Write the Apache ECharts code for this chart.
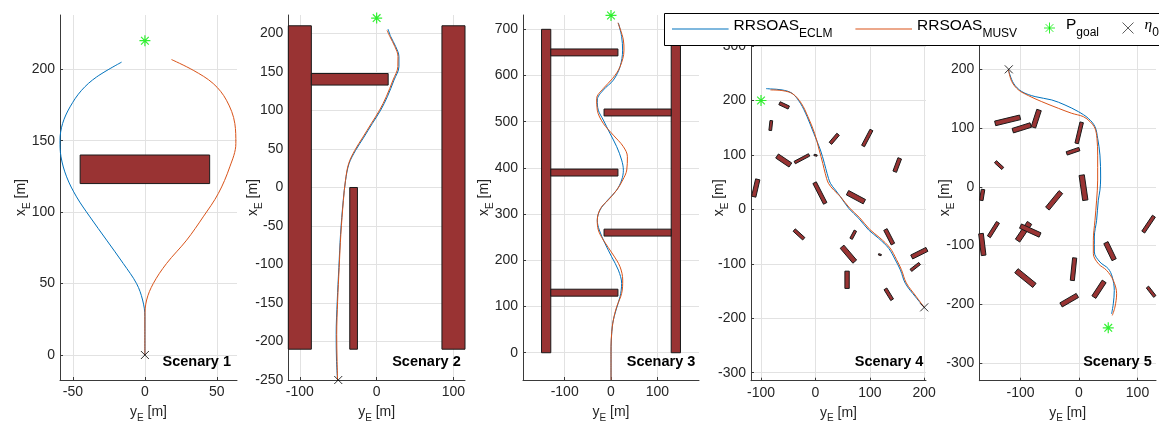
<!DOCTYPE html>
<html><head><meta charset="utf-8">
<script src="https://cdn.jsdelivr.net/npm/echarts@6/dist/echarts.min.js"></script>
<style>html,body{margin:0;padding:0;background:#fff}#c{width:1159px;height:421px}</style>
</head><body><div id="c"></div>
<script>
// ---------------- DATA (y_E, x_E in metres) ----------------
// Scenario 1
const s1_obstacles = [[-45, 45, 120, 140]]; // [yMin, yMax, xMin, xMax]
const s1_eclm = [[0,0],[0,27],[-1.6,38.5],[-5.8,50],[-15,64],[-26.6,80.4],[-38.2,96.7],[-47.5,110.7],[-54.4,124.7],[-58.3,138.7],[-59,150.3],[-57.2,162],[-52,173.7],[-44,185.3],[-33.6,194.6],[-16.2,205]];
const s1_musv = [[0,0],[0,27],[1.2,38.5],[5.8,50],[15,64],[29,80.4],[40.5,96.7],[51,113],[59,131.7],[63.2,148],[62.5,162],[56.7,178.3],[47.5,190],[33.6,199.3],[18.5,206.8]];
const s1_goal = [[0, 220]];
const s1_start = [[0, 0]];
const s1_xRange = [-59, 64], s1_yRange = [-17.5, 238];
const s1_xTicks = [-50, 0, 50], s1_yTicks = [0, 50, 100, 150, 200];

// Scenario 2
const s2_obstacles = [[-115,-85,-210,210],[85,115,-210,210],[-85,15,133,148],[-35,-25,-210,0]];
const s2_eclm = [[-50.9,-250],[-52.2,-226],[-52.7,-191],[-51.3,-147.7],[-49.2,-104],[-47,-60.7],[-43.5,-17],[-40.5,9],[-36,30.8],[-27.4,48.2],[-16.5,65.5],[-5.7,83],[5.2,100.4],[13.9,117.8],[22.6,139.5],[29,157],[29,170],[24.8,183],[18.3,196],[14.8,205.7]];
const s2_musv = [[-50.9,-250],[-51.5,-226],[-52,-191],[-50.8,-147.7],[-48.8,-104],[-46.6,-60.7],[-43.3,-17],[-40.6,9],[-36.5,30.8],[-28.5,48.2],[-17.8,65.5],[-7,83],[3.8,100.4],[12.5,117.8],[21.3,139.5],[27.6,157],[27.8,170],[23.7,183],[17.2,196],[13.5,204]];
const s2_goal = [[0, 220]];
const s2_start = [[-50, -250]];
const s2_xRange = [-115, 115], s2_yRange = [-250, 224];
const s2_xTicks = [-100, 0, 100], s2_yTicks = [-250,-200,-150,-100,-50,0,50,100,150,200];

// Scenario 3
const s3_obstacles = [[-150,-130,0,700],[130,150,0,700],[-130,15,122.5,137.5],[-130,15,382.5,397.5],[-130,15,642.5,657.5],[-15,130,252.5,267.5],[-15,130,512.5,527.5]];
const s3_eclm = [[0,-59],[0,0],[0.7,27.5],[3.6,63.6],[10.8,92.4],[19.5,121.3],[23,150],[15.9,178.9],[1.4,207.7],[-13,236.6],[-25.3,265.6],[-29.6,287],[-23.8,308.9],[-7,330.5],[12.3,352],[23,373.8],[26.7,395],[23,417],[12.3,446],[-2.2,474.8],[-16.6,503.7],[-27.4,525],[-29.6,547],[-16.6,568.6],[5,590],[19.5,619],[25,655],[23,684],[15.9,714]];
const s3_musv = [[0,-59],[0,13],[1.4,41.9],[5,70.7],[12.3,99.6],[23,128.4],[25.3,157.3],[19.5,186],[5,211.5],[-16.6,244],[-27.4,265.6],[-29.6,287],[-22.4,312.5],[-6,330.5],[12.3,352],[25.3,373.8],[34,395.5],[35.4,424.3],[26.7,446],[5,471],[-16.6,496.4],[-29.6,525],[-31,550],[-16.6,572],[3.6,593.8],[19.5,619],[28,655],[26.7,677],[15,714]];
const s3_goal = [[0, 730]];
const s3_start = [[0, -60]];
const s3_xRange = [-190, 190], s3_yRange = [-59, 731];
const s3_xTicks = [-100, 0, 100], s3_yTicks = [0,100,200,300,400,500,600,700];

// Scenario 4  obstacles: [y1, x1, y2, x2, thickness]
const s4_obstacles = [[-66,195,-49,187,6],[-81,163,-83,145,5],[-70.5,98,-46,81.5,9],[-38,86,-11.6,100,5],[-2.5,100,3,98.7,2.5],[27.6,121.3,41.7,137.9,6],[87.6,116.4,103,145.8,6],[155,93.7,145.8,69.2,7],[-106,55.1,-113.4,23.3,8],[-1.5,49,18,11,7],[59,30.6,90,14.1,9],[-39,-38,-21.4,-54,6],[73.5,-39.2,65.6,-54,5],[128.7,-37,142.5,-63.7,7],[49,-68.6,72.3,-96,9],[116,-82.5,121,-84,2.5],[177,-87.5,205,-73.5,8],[175.5,-112,191.5,-99.5,5],[58.2,-113.5,58.2,-145.2,8],[128.7,-146,141,-166,6]];
const s4_eclm = [[200,-180],[183.8,-160.5],[165.4,-136],[156.3,-111.5],[147,-93],[134.8,-71.7],[116.4,-53.3],[98,-38],[79.7,-16.5],[61.3,1.8],[46,23.3],[36.8,35.5],[27.6,47.8],[21.4,66.2],[16.5,84.6],[9.2,109],[-3,139.7],[-15.3,170.3],[-27.6,194.9],[-42.9,213.2],[-61.3,219.4],[-82.7,221.2],[-90.7,221.8]];
const s4_musv = [[200,-180],[184.8,-159.5],[167,-135],[158,-110.5],[149,-92],[137,-70.7],[118.5,-52.3],[100,-37],[81.5,-15.5],[62.5,2.8],[46,23.3],[33.8,35.5],[24,47.8],[18,66.2],[13.5,84.6],[7,109],[-1.5,139.7],[-13.8,170.3],[-26,194.9],[-41.4,212],[-59.8,218],[-82.7,219.4]];
const s4_goal = [[-100, 200]];
const s4_start = [[200, -180]];
const s4_xRange = [-118.4, 203.3], s4_yRange = [-314.7, 357];
const s4_xTicks = [-100, 0, 100, 200], s4_yTicks = [-300,-200,-100,0,100,200,300];

// Scenario 5  obstacles: [y1, x1, y2, x2, thickness]
const s5_obstacles = [[-143.3,108,-100.7,118.3,8],[-113.2,95.6,-82.5,105.2,8],[-68.3,130.8,-77.9,101.3,8],[-142.8,42.7,-130.3,31.3,5],[4.6,109.8,-4,74,6],[-21,56.9,0.6,64.3,6],[4.6,19.9,10.8,-22.8,9],[-31,-9,-54,-37,8],[-164,-4.5,-167,-23,6],[-138.5,-60.5,-154,-85,6],[-167.5,-79.6,-163,-116.6,8],[-84.5,-61.4,-105,-91.5,9],[-100,-66.8,-66.6,-82,8],[-7.4,-121,-11.4,-159.3,7],[46,-95,60,-124,8],[-107,-142.8,-76.2,-167.8,9],[-30.7,-201,-2.8,-184.9,8],[43,-161,25.4,-187.7,8],[128,-50,109.8,-77,6],[117,-170.6,129.5,-186.6,5]];
const s5_eclm = [[-120.6,199],[-112,176.4],[-97.8,162.2],[-75,153.6],[-46.6,147.9],[-23.9,139.3],[-1.1,128],[15.9,116.6],[27.3,102.4],[31.9,82.5],[35.8,54],[37,15],[35.8,-5.7],[33,-22.7],[30.1,-56.9],[26.2,-85.3],[26.2,-110.9],[35.8,-128],[50,-139.3],[56.9,-153.6],[60.3,-176.4],[58.6,-199.2],[55.7,-216.3]];
const s5_musv = [[-120.6,199],[-114.9,179.2],[-103.5,165],[-86.5,155.3],[-63.7,145],[-35.3,133.7],[-12.5,125.2],[7.4,119.5],[18.8,111],[27.3,99.6],[30.7,82.5],[31.9,54],[31.9,11.4],[30.1,-22.7],[27.3,-56.9],[24.5,-90.9],[24.5,-113.7],[33,-130.8],[47.2,-142.2],[58.6,-159.3],[64.3,-182],[61.4,-204.7],[56.9,-218.9]];
const s5_goal = [[50, -240]];
const s5_start = [[-120, 200]];
const s5_xRange = [-170.4, 131.6], s5_yRange = [-330, 292.5];
const s5_xTicks = [-100, 0, 100], s5_yTicks = [-300,-200,-100,0,100,200];

const scenaryLabels = ['Scenary 1','Scenary 2','Scenary 3','Scenary 4','Scenary 5'];

// ---------------- LAYOUT / STYLE ----------------
const scen = [
  {obs:s1_obstacles, kind:'rect', e:s1_eclm, m:s1_musv, g:s1_goal, s:s1_start, xr:s1_xRange, yr:s1_yRange, xt:s1_xTicks, yt:s1_yTicks},
  {obs:s2_obstacles, kind:'rect', e:s2_eclm, m:s2_musv, g:s2_goal, s:s2_start, xr:s2_xRange, yr:s2_yRange, xt:s2_xTicks, yt:s2_yTicks},
  {obs:s3_obstacles, kind:'rect', e:s3_eclm, m:s3_musv, g:s3_goal, s:s3_start, xr:s3_xRange, yr:s3_yRange, xt:s3_xTicks, yt:s3_yTicks},
  {obs:s4_obstacles, kind:'seg', e:s4_eclm, m:s4_musv, g:s4_goal, s:s4_start, xr:s4_xRange, yr:s4_yRange, xt:s4_xTicks, yt:s4_yTicks},
  {obs:s5_obstacles, kind:'seg', e:s5_eclm, m:s5_musv, g:s5_goal, s:s5_start, xr:s5_xRange, yr:s5_yRange, xt:s5_xTicks, yt:s5_yTicks}
];
const GRIDS = [
  {left:60, top:15, width:177, height:365},
  {left:288.3, top:15, width:176.7, height:365},
  {left:523, top:15, width:176, height:365},
  {left:751, top:15, width:175, height:365.7},
  {left:979.3, top:15, width:176.7, height:365.7}
];
const SPLITX = [2,2,4,3,3], SPLITY = [5,9,8,7,6];
const YNAMEGAP = [28,24,28,21,23];
const LABEL_RIGHT = [231, 460.7, 695.3, 923.3, 1151.7];
const FONT = '"Liberation Sans", Arial, Helvetica, sans-serif';
const AX = '#3a3a3a', TXT = '#262626', GRIDC = '#e2e2e2';
const BLUE = '#0072BD', ORANGE = '#D95319', OBST = '#993333';
const STAR = 'path://M5,0L5,10M0,5L10,5M1.5,1.5L8.5,8.5M8.5,1.5L1.5,8.5';
const CROSS = 'path://M0,0L10,10M10,0L0,10';

function obstacleRenderer(kind) {
  return function (params, api) {
    let c;
    if (kind === 'rect') {
      const y0 = api.value(0), y1 = api.value(1), x0 = api.value(2), x1 = api.value(3);
      c = [[y0,x0],[y1,x0],[y1,x1],[y0,x1]];
    } else {
      const ya = api.value(0), xa = api.value(1), yb = api.value(2), xb = api.value(3), w = api.value(4);
      const dy = yb - ya, dx = xb - xa, L = Math.hypot(dy, dx);
      const ny = -dx / L * w / 2, nx = dy / L * w / 2;
      c = [[ya+ny,xa+nx],[yb+ny,xb+nx],[yb-ny,xb-nx],[ya-ny,xa-nx]];
    }
    return {type:'polygon', shape:{points:c.map(p => api.coord(p))},
      style:{fill:OBST, stroke:'#1a1a1a', lineWidth:1}};
  };
}

const nameRich = {
  a:{fontSize:14, color:TXT, fontFamily:FONT, verticalAlign:'bottom', padding:[0,0,4,0]},
  b:{fontSize:10, color:TXT, fontFamily:FONT, verticalAlign:'bottom'}
};

const grid = [], xAxis = [], yAxis = [], series = [], graphic = [];
scen.forEach((S, i) => {
  grid.push(Object.assign({outerBoundsMode:'none', containLabel:false}, GRIDS[i]));
  const common = {
    gridIndex:i, type:'value',
    axisLine:{show:true, onZero:false, lineStyle:{color:AX, width:1}},
    splitLine:{show:true, lineStyle:{color:GRIDC, width:1}},
    nameLocation:'middle', nameMoveOverlap:false
  };
  xAxis.push(Object.assign({}, common, {
    min:S.xr[0], max:S.xr[1], splitNumber:SPLITX[i],
    axisTick:{show:true, inside:true, length:3, lineStyle:{color:AX}, customValues:S.xt},
    axisLabel:{customValues:S.xt, margin:5, fontSize:14, color:TXT, fontFamily:FONT},
    name:'{a|y}{b|E}{a| [m]}', nameGap:25, nameTextStyle:{rich:nameRich}
  }));
  yAxis.push(Object.assign({}, common, {
    min:S.yr[0], max:S.yr[1], splitNumber:SPLITY[i],
    axisTick:{show:true, inside:true, length:3, lineStyle:{color:AX}, customValues:S.yt},
    axisLabel:{customValues:S.yt, margin:5, fontSize:14, color:TXT, fontFamily:FONT},
    name:'{a|x}{b|E}{a| [m]}', nameGap:YNAMEGAP[i], nameTextStyle:{rich:nameRich}
  }));
  series.push({type:'custom', xAxisIndex:i, yAxisIndex:i, renderItem:obstacleRenderer(S.kind), data:S.obs, z:2, silent:true});
  series.push({type:'line', name:'RRSOAS_ECLM', xAxisIndex:i, yAxisIndex:i, data:S.e, symbol:'none', smooth:0.35,
    lineStyle:{color:BLUE, width:1}, itemStyle:{color:BLUE}, z:3});
  series.push({type:'line', name:'RRSOAS_MUSV', xAxisIndex:i, yAxisIndex:i, data:S.m, symbol:'none', smooth:0.35,
    lineStyle:{color:ORANGE, width:1}, itemStyle:{color:ORANGE}, z:3});
  series.push({type:'scatter', name:'P_goal', xAxisIndex:i, yAxisIndex:i, data:S.g, symbol:STAR, symbolSize:11,
    itemStyle:{color:'none', borderColor:'#00ee00', borderWidth:1.2}, z:4});
  series.push({type:'scatter', name:'η_0', xAxisIndex:i, yAxisIndex:i, data:S.s, symbol:CROSS, symbolSize:8,
    itemStyle:{color:'none', borderColor:'#000', borderWidth:1}, z:4});
  graphic.push({type:'text', x:LABEL_RIGHT[i], y:362, z:6,
    style:{text:scenaryLabels[i], font:'bold 14.5px ' + FONT, fill:'#000', align:'right', verticalAlign:'middle'}});
});
graphic.push({type:'rect', z:10, shape:{x:664.5, y:13.5, width:520, height:32},
  style:{fill:'#fff', stroke:'#000', lineWidth:1}});

const legRich = {
  m:{fontSize:15.5, color:'#000', fontFamily:FONT, verticalAlign:'bottom', padding:[0,0,6,0]},
  mp:{fontSize:15.5, color:'#000', fontFamily:FONT, verticalAlign:'bottom', padding:[0,0,6,6]},
  me:{fontSize:15.5, color:'#000', fontFamily:'"Liberation Serif", "DejaVu Serif", serif', fontStyle:'italic', verticalAlign:'bottom', padding:[0,0,6,6]},
  s:{fontSize:12, color:'#000', fontFamily:FONT, verticalAlign:'bottom'}
};

const option = {
  animation:false,
  backgroundColor:'#fff',
  grid, xAxis, yAxis, series, graphic,
  legend:[
    {data:[{name:'RRSOAS_ECLM', icon:'rect'},{name:'RRSOAS_MUSV', icon:'rect'}], left:672, top:18, padding:0, itemGap:23,
      itemWidth:56.6, itemHeight:1, z:11, width:400, selectedMode:false,
      formatter:n => { const p = n.split('_'); return '{m|' + p[0] + '}{s|' + p[1] + '}'; },
      textStyle:{rich:legRich}},
    {data:[{name:'P_goal', itemStyle:{color:'none', borderColor:'#00ee00', borderWidth:1}},
           {name:'η_0', itemStyle:{color:'none', borderColor:'#000', borderWidth:0.8}}],
      left:1041.5, top:17, padding:0, itemGap:21, itemWidth:11, itemHeight:11, z:11,
      width:300, selectedMode:false,
      formatter:n => { const p = n.split('_'); return (p[0] === 'P' ? '{mp|P}' : '{me|η}') + '{s|' + p[1] + '}'; },
      textStyle:{rich:legRich}}
  ]
};
const chart = echarts.init(document.getElementById('c'), null, {renderer:'canvas'});
chart.setOption(option);
</script></body></html>
